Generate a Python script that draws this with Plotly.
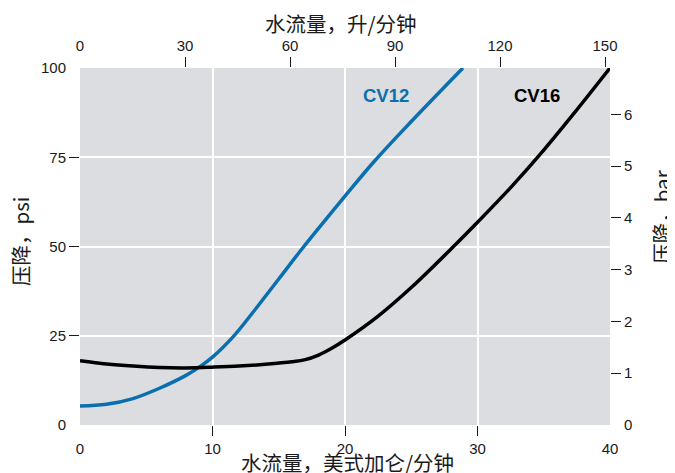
import plotly.graph_objects as go

# --- data ---
gpm_cv12 = [0, 2, 4, 6, 8, 9, 10, 11.6, 13, 15, 16.7, 18, 20, 22.2, 25, 28.9]
psi_cv12 = [5.3, 5.8, 7.4, 10.3, 13.9, 16.2, 19, 24.9, 31.3, 40.9, 49.1, 55.1, 64.1, 73.8, 85, 100]

gpm_cv16 = [0, 2, 4, 6, 8, 10, 12, 14, 16, 17, 18, 19, 20, 22.5, 25, 28, 30, 32.5, 35, 37.5, 40]
psi_cv16 = [18, 17.1, 16.5, 16.1, 16.0, 16.2, 16.5, 17, 17.7, 18.3, 19.6, 21.5, 23.8, 30.5, 38.5, 49.3, 56.8, 66.5, 77, 88.3, 100]

series_names = ["CV12", "CV16"]

gpm_ticks = [0, 10, 20, 30, 40]
lpm_ticks = [0, 30, 60, 90, 120, 150]
psi_ticks = [0, 25, 50, 75, 100]
bar_ticks = [0, 1, 2, 3, 4, 5, 6]

GPM_TO_LPM = 3.785411784
PSI_PER_BAR = 14.5038

x_max = 40
y_max = 100

BLUE = "#0a6fae"
BLACK = "#000000"
BG = "#dcdde0"
TXT = "#1a1a1a"
FONT = "Liberation Sans, Arial, Noto Sans CJK SC, sans-serif"
CJK = "Noto Sans CJK SC, Liberation Sans, sans-serif"

fig = go.Figure()
fig.add_trace(go.Scatter(x=gpm_cv12, y=psi_cv12, mode="lines", name=series_names[0],
                         line=dict(color=BLUE, width=3.5, shape="spline", smoothing=1.0)))
fig.add_trace(go.Scatter(x=gpm_cv16, y=psi_cv16, mode="lines", name=series_names[1],
                         line=dict(color=BLACK, width=3.5, shape="spline", smoothing=1.0)))

tickfont = dict(family=FONT, size=15, color=TXT)
lpm_max = x_max * GPM_TO_LPM
bar_max = y_max / PSI_PER_BAR

common = dict(showline=False, zeroline=False, tickfont=tickfont, ticklen=10,
              tickwidth=1.2)

# page body has an 8px margin, so the figure is 8px smaller than the window
fig.update_layout(
    width=667, height=465,
    margin=dict(l=72, r=65, t=60, b=48),
    paper_bgcolor="white", plot_bgcolor=BG,
    showlegend=False,
    xaxis=dict(range=[0, x_max], tickvals=gpm_ticks, ticks="outside",
               tickcolor="rgba(0,0,0,0)", showgrid=True, gridcolor="white",
               gridwidth=2, **common),
    yaxis=dict(range=[0, y_max], tickvals=psi_ticks, ticks="outside",
               tickcolor="rgba(0,0,0,0)", showgrid=True, gridcolor="white",
               gridwidth=2, **common),
    xaxis2=dict(range=[0, lpm_max], overlaying="x", side="top", anchor="y",
                tickvals=lpm_ticks, ticks="outside", tickcolor="rgba(0,0,0,0)",
                showgrid=False, **common),
    yaxis2=dict(range=[0, bar_max], overlaying="y", side="right", anchor="x",
                tickvals=bar_ticks, ticks="outside", tickcolor="rgba(0,0,0,0)",
                showgrid=False, **common),
    # tick-mark-only axes (marks on interior ticks only)
    xaxis3=dict(range=[0, x_max], overlaying="x", side="bottom", anchor="y",
                tickvals=gpm_ticks[1:-1], ticks="outside", tickcolor=TXT,
                showticklabels=False, showgrid=False, **common),
    xaxis4=dict(range=[0, lpm_max], overlaying="x", side="top", anchor="y",
                tickvals=lpm_ticks[1:], ticks="outside", tickcolor=TXT,
                showticklabels=False, showgrid=False, **common),
    yaxis3=dict(range=[0, y_max], overlaying="y", side="left", anchor="x",
                tickvals=psi_ticks[1:-1], ticks="outside", tickcolor=TXT,
                showticklabels=False, showgrid=False, **common),
    yaxis4=dict(range=[0, bar_max], overlaying="y", side="right", anchor="x",
                tickvals=bar_ticks[1:], ticks="outside", tickcolor=TXT,
                showticklabels=False, showgrid=False, **common),
)

# invisible traces to bind the helper axes
fig.add_trace(go.Scatter(x=[None], y=[None], xaxis="x2", yaxis="y2", showlegend=False, hoverinfo="skip"))
fig.add_trace(go.Scatter(x=[None], y=[None], xaxis="x3", yaxis="y3", showlegend=False, hoverinfo="skip"))
fig.add_trace(go.Scatter(x=[None], y=[None], xaxis="x4", yaxis="y4", showlegend=False, hoverinfo="skip"))

annotations = [
    dict(text="水流量，美式加仑/分钟", x=0.504, y=-0.105, xref="paper", yref="paper",
         showarrow=False, font=dict(family=CJK, size=20.5, color=TXT),
         xanchor="center", yanchor="middle", borderpad=0),
    dict(text="水流量，升/分钟", x=0.4925, y=1.126, xref="paper", yref="paper",
         showarrow=False, font=dict(family=CJK, size=20.5, color=TXT),
         xanchor="center", yanchor="middle", borderpad=0),
    dict(text="压降，psi", x=-0.113, y=0.513, xref="paper", yref="paper", textangle=-90,
         showarrow=False, font=dict(family=CJK, size=20.5, color=TXT),
         xanchor="center", yanchor="middle", borderpad=0),
    dict(text="压降，bar", x=1.096, y=0.583, xref="paper", yref="paper", textangle=-90,
         showarrow=False, font=dict(family=CJK, size=20.5, color=TXT),
         xanchor="center", yanchor="middle", borderpad=0),
    dict(text="<b>" + series_names[0] + "</b>", x=23.1, y=92.2, xref="x", yref="y",
         showarrow=False, font=dict(family=FONT, size=18.5, color=BLUE)),
    dict(text="<b>" + series_names[1] + "</b>", x=34.5, y=92.2, xref="x", yref="y",
         showarrow=False, font=dict(family=FONT, size=18.5, color=BLACK)),
]
fig.update_layout(annotations=annotations)

fig.write_html("out.html")
